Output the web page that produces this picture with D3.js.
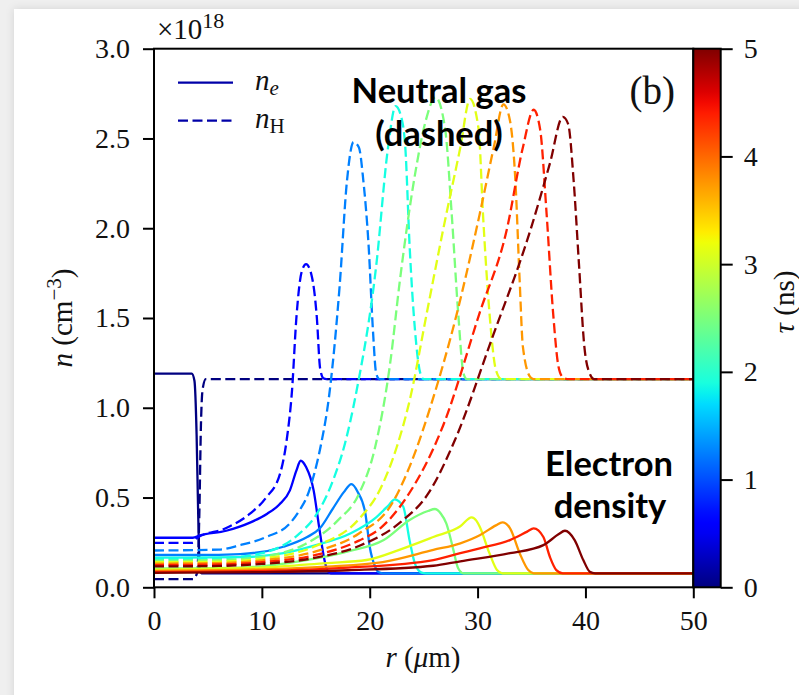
<!DOCTYPE html>
<html lang="en">
<head>
<meta charset="UTF-8">
<title>density profiles</title>
<script src="https://cdn.jsdelivr.net/npm/d3@7"></script>
<style>
    body { margin: 0; background: #efefef; }
    svg { display: block; }
    .tick text { font-family: "Liberation Serif", serif; font-size: 28px; fill: #111; }
</style>
</head>
<body>
<div id="chart"></div>
<script>
// time of each snapshot (ns)
const taus = [0, 0.625, 1.25, 1.875, 2.5, 3.125, 3.75, 4.375, 5];

// electron density n_e, [r (um), n (1e18 cm^-3)]
const ne0 = [[0,1.19],[3.5,1.19],[3.75,1.15],[3.95,0.85],[4.1,0.4],[4.25,0.1],[4.4,0.078],[50,0.078]];
const ne1 = [[0,0.276],[3.6,0.276],[4.2,0.288],[6.7,0.315],[8.9,0.36],[10.5,0.41],[11.6,0.46],[12.6,0.54],[13.2,0.65],[13.6,0.705],[14.1,0.67],[14.8,0.54],[15.3,0.34],[15.8,0.153],[16.1,0.09],[16.4,0.078],[50,0.078]];
const ne2 = [[0,0.18],[4,0.18],[8,0.185],[12,0.226],[14.2,0.28],[15.4,0.33],[16.6,0.44],[17.6,0.53],[18.3,0.575],[18.9,0.53],[19.6,0.41],[20.0,0.226],[20.5,0.115],[20.8,0.085],[21.2,0.078],[50,0.078]];
const ne3 = [[0,0.165],[8,0.168],[12,0.19],[15,0.235],[18.2,0.3],[20.6,0.39],[21.8,0.46],[22.3,0.49],[23.1,0.45],[23.7,0.26],[24.2,0.13],[24.8,0.082],[25.2,0.078],[50,0.078]];
const ne4 = [[0,0.105],[8,0.11],[14,0.15],[18,0.2],[21.3,0.263],[23.7,0.375],[25.4,0.425],[26.05,0.436],[26.6,0.41],[27.1,0.356],[27.75,0.21],[28.2,0.106],[28.7,0.078],[50,0.078]];
const ne5 = [[0,0.098],[10,0.11],[16,0.135],[19.7,0.152],[22.8,0.21],[25.9,0.28],[28.4,0.34],[29.45,0.39],[29.9,0.37],[30.2,0.337],[31.1,0.19],[31.8,0.096],[32.3,0.078],[50,0.078]];
const ne6 = [[0,0.092],[10,0.1],[16,0.115],[21.2,0.14],[25.9,0.208],[28.4,0.245],[30.2,0.29],[31.7,0.345],[32.3,0.362],[33.0,0.33],[33.9,0.19],[34.7,0.096],[35.2,0.078],[50,0.078]];
const ne7 = [[0,0.086],[10,0.092],[18,0.11],[25.9,0.152],[28.4,0.19],[30.2,0.217],[33.0,0.263],[34.6,0.31],[35.2,0.328],[36.1,0.28],[36.7,0.17],[37.3,0.096],[37.9,0.078],[50,0.078]];
const ne8 = [[0,0.08],[10,0.085],[18,0.095],[25.9,0.12],[28.4,0.145],[33.0,0.19],[36.1,0.235],[37.5,0.295],[38.1,0.315],[39.0,0.263],[39.8,0.152],[40.4,0.087],[40.9,0.078],[50,0.078]];

// neutral gas n_H
const nH0 = [[0,0.045],[3.6,0.045],[4.0,0.08],[4.2,0.4],[4.35,0.9],[4.5,1.1],[4.8,1.16],[50,1.16]];
const nH1 = [[0,0.248],[3.6,0.248],[4.0,0.275],[6.7,0.33],[8.9,0.41],[10.4,0.5],[11.7,0.635],[12.3,0.82],[12.8,1.1],[13.2,1.5],[13.7,1.76],[14.1,1.8],[14.6,1.74],[15.1,1.5],[15.4,1.22],[15.7,1.165],[16,1.16],[50,1.16]];
const nH2 = [[0,0.205],[6,0.21],[8,0.235],[10.4,0.28],[12.6,0.356],[13.5,0.43],[14.15,0.5],[14.8,0.62],[15.5,0.8],[16.2,1.05],[17.2,1.67],[17.9,2.27],[18.5,2.48],[19.0,2.45],[19.4,2.27],[19.9,1.9],[20.3,1.43],[20.6,1.19],[20.9,1.16],[50,1.16]];
const nH3 = [[0,0.157],[6,0.162],[10,0.19],[13.5,0.3],[15,0.4],[16.5,0.58],[17.7,0.8],[18.8,1.1],[20.6,1.79],[21.7,2.45],[22.4,2.68],[23.0,2.6],[23.3,2.45],[23.7,1.9],[24.2,1.43],[24.7,1.19],[25.0,1.16],[50,1.16]];
const nH4 = [[0,0.148],[6,0.152],[10,0.17],[14,0.24],[17,0.37],[19,0.52],[20.5,0.78],[21.9,1.25],[22.8,1.71],[24.2,2.3],[25.2,2.6],[26.1,2.73],[27.0,2.55],[27.6,2.08],[28.2,1.53],[28.7,1.19],[29.0,1.16],[50,1.16]];
const nH5 = [[0,0.14],[6,0.143],[10,0.16],[15,0.23],[19,0.38],[21,0.55],[22.5,0.78],[23.7,1.04],[25.3,1.53],[26.8,1.99],[28.4,2.45],[29.3,2.72],[30.1,2.55],[30.5,2.08],[31.1,1.53],[31.7,1.21],[32.2,1.16],[50,1.16]];
const nH6 = [[0,0.132],[6,0.135],[10,0.15],[15,0.2],[19,0.3],[22,0.46],[24.2,0.75],[25.6,1.0],[28.1,1.53],[30.2,2.08],[31.5,2.45],[32.4,2.69],[33.0,2.6],[33.5,2.27],[33.9,1.71],[34.2,1.34],[34.9,1.17],[35.2,1.16],[50,1.16]];
const nH7 = [[0,0.124],[6,0.127],[10,0.14],[15,0.18],[19,0.26],[21,0.33],[23.4,0.5],[26.8,0.9],[30.2,1.53],[32.7,1.99],[34.2,2.45],[35.2,2.66],[35.8,2.55],[36.4,2.08],[37.0,1.53],[37.5,1.23],[37.9,1.17],[38.3,1.16],[50,1.16]];
const nH8 = [[0,0.116],[6,0.119],[10,0.13],[15,0.165],[19,0.23],[22.8,0.36],[25.4,0.52],[27.9,0.82],[31.3,1.38],[34.9,1.99],[36.7,2.36],[37.9,2.62],[38.4,2.58],[38.9,2.27],[39.4,1.8],[39.9,1.34],[40.4,1.19],[40.8,1.16],[50,1.16]];

const neList = [ne0, ne1, ne2, ne3, ne4, ne5, ne6, ne7, ne8];
const nHList = [nH0, nH1, nH2, nH3, nH4, nH5, nH6, nH7, nH8];

const xTicks = [0, 10, 20, 30, 40, 50];
const yTicks = [0, 0.5, 1, 1.5, 2, 2.5, 3];
const cTicks = [0, 1, 2, 3, 4, 5];

const W = 799, H = 695;
const svg = d3.select("#chart").append("svg").attr("width", W).attr("height", H);

// card with soft shadow
const defs = svg.append("defs");
const sh = defs.append("filter").attr("id", "shadow").attr("x", "-5%").attr("y", "-5%").attr("width", "110%").attr("height", "110%");
sh.append("feDropShadow").attr("dx", 0).attr("dy", 0).attr("stdDeviation", 4).attr("flood-color", "#000").attr("flood-opacity", 0.12);
svg.append("rect").attr("x", 14).attr("y", 9).attr("width", W + 20).attr("height", H + 20)
    .attr("fill", "#fff").attr("filter", "url(#shadow)");

// jet colormap (matplotlib segment data)
const jr = d3.scaleLinear().domain([0, 0.35, 0.66, 0.89, 1]).range([0, 0, 1, 1, 0.5]).clamp(true);
const jg = d3.scaleLinear().domain([0, 0.125, 0.375, 0.64, 0.91, 1]).range([0, 0, 1, 1, 0, 0]).clamp(true);
const jb = d3.scaleLinear().domain([0, 0.11, 0.34, 0.65, 1]).range([0.5, 1, 1, 0, 0]).clamp(true);
const jet = t => d3.rgb(jr(t) * 255, jg(t) * 255, jb(t) * 255).formatHex();

const x = d3.scaleLinear().domain([0, 50]).range([154, 693.3]);
const y = d3.scaleLinear().domain([0, 3]).range([587.3, 48.7]);
const cScale = d3.scaleLinear().domain([0, 5]).range([587.3, 48.7]);

const line = d3.line().x(d => x(d[0])).y(d => y(d[1])).curve(d3.curveMonotoneX);

svg.append("clipPath").attr("id", "clip").append("rect")
    .attr("x", 154).attr("y", 48.7).attr("width", 539.3).attr("height", 538.6);

const gLines = svg.append("g").attr("clip-path", "url(#clip)");
taus.forEach((t, i) => {
    const col = jet(t / 5);
    gLines.append("path").attr("d", line(neList[i]))
        .attr("fill", "none").attr("stroke", col).attr("stroke-width", 2.3);
    gLines.append("path").attr("d", line(nHList[i]))
        .attr("fill", "none").attr("stroke", col).attr("stroke-width", 2.3)
        .attr("stroke-dasharray", "10,4.5");
});

// axes
const xAxis = svg.append("g").attr("transform", "translate(0,587.3)")
    .call(d3.axisBottom(x).tickValues(xTicks).tickSize(11).tickSizeOuter(0).tickPadding(12).tickFormat(d3.format("d")));
const yAxis = svg.append("g").attr("transform", "translate(154,0)")
    .call(d3.axisLeft(y).tickValues(yTicks).tickSize(11).tickSizeOuter(0).tickPadding(13).tickFormat(d3.format(".1f")));
[xAxis, yAxis].forEach(a => {
    a.select(".domain").remove();
    a.selectAll(".tick line").attr("stroke", "#000").attr("stroke-width", 2);
});

// frame
svg.append("rect").attr("x", 154).attr("y", 48.7).attr("width", 539.3).attr("height", 538.6)
    .attr("fill", "none").attr("stroke", "#000").attr("stroke-width", 2);

// colorbar
const grad = defs.append("linearGradient").attr("id", "jetgrad").attr("x1", 0).attr("y1", 1).attr("x2", 0).attr("y2", 0);
d3.range(0, 1.0001, 0.02).forEach(t => grad.append("stop").attr("offset", t).attr("stop-color", jet(t)));
svg.append("rect").attr("x", 693.3).attr("y", 48.7).attr("width", 27.4).attr("height", 538.6)
    .attr("fill", "url(#jetgrad)").attr("stroke", "#000").attr("stroke-width", 2);
const cAxis = svg.append("g").attr("transform", "translate(720.7,0)")
    .call(d3.axisRight(cScale).tickValues(cTicks).tickSize(12).tickSizeOuter(0).tickPadding(11).tickFormat(d3.format("d")));
cAxis.select(".domain").remove();
cAxis.selectAll(".tick line").attr("stroke", "#000").attr("stroke-width", 2);

const serif = "Liberation Serif, serif";

// offset text
const off = svg.append("text").attr("x", 157).attr("y", 39)
    .style("font-family", serif).style("font-size", "29px").attr("fill", "#111");
off.append("tspan").text("×10");
off.append("tspan").attr("dy", -11).style("font-size", "22px").text("18");

// axis labels
const yl = svg.append("text").attr("transform", "translate(72,318) rotate(-90)").attr("text-anchor", "middle")
    .style("font-family", serif).style("font-size", "29px").attr("fill", "#111");
yl.append("tspan").style("font-style", "italic").text("n");
yl.append("tspan").text(" (cm");
yl.append("tspan").attr("dy", -11).style("font-size", "21px").text("−3");
yl.append("tspan").attr("dy", 11).text(")");

const xl = svg.append("text").attr("x", 423).attr("y", 667).attr("text-anchor", "middle")
    .style("font-family", serif).style("font-size", "29px").attr("fill", "#111");
xl.append("tspan").style("font-style", "italic").text("r");
xl.append("tspan").text(" (");
xl.append("tspan").style("font-style", "italic").text("μ");
xl.append("tspan").text("m)");

const cl = svg.append("text").attr("transform", "translate(794,302) rotate(-90)").attr("text-anchor", "middle")
    .style("font-family", serif).style("font-size", "29px").attr("fill", "#111");
cl.append("tspan").style("font-style", "italic").text("τ");
cl.append("tspan").text(" (ns)");

// panel tag
svg.append("text").attr("x", 675).attr("y", 104).attr("text-anchor", "end")
    .style("font-family", serif).style("font-size", "39px").attr("fill", "#111").text("(b)");

// legend
const legend = svg.append("g");
[["solid", 82.7, "e", "italic"], ["dashed", 120.7, "H", "normal"]].forEach(([kind, ly, sub, subStyle]) => {
    legend.append("line").attr("x1", 178).attr("x2", 233).attr("y1", ly).attr("y2", ly)
        .attr("stroke", "#0000a8").attr("stroke-width", 2.3)
        .attr("stroke-dasharray", kind === "dashed" ? "10,4.5" : null);
    const lt = legend.append("text").attr("x", 255).attr("y", ly + 7)
        .style("font-family", serif).style("font-size", "29px").attr("fill", "#111");
    lt.append("tspan").style("font-style", "italic").text("n");
    lt.append("tspan").attr("dy", 5).style("font-size", "21px").style("font-style", subStyle).text(sub);
});

// annotations
const ann = svg.append("g").style("font-family", "Lato, sans-serif").style("font-weight", 700)
    .style("font-size", "34.5px").attr("fill", "#000").attr("text-anchor", "middle");
ann.append("text").attr("x", 439).attr("y", 103).text("Neutral gas");
ann.append("text").attr("x", 439).attr("y", 146).text("(dashed)");
ann.append("text").attr("x", 609).attr("y", 476).text("Electron");
ann.append("text").attr("x", 610).attr("y", 518).text("density");
</script>
</body>
</html>
